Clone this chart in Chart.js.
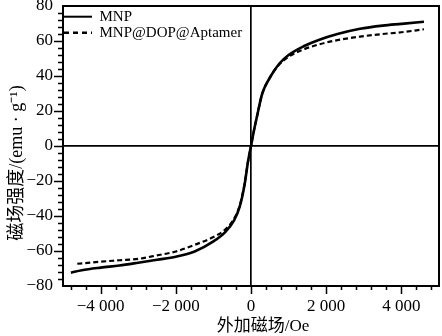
<!DOCTYPE html>
<html>
<head>
<meta charset="utf-8">
<script src="https://cdn.jsdelivr.net/npm/chart.js@4.4.0/dist/chart.umd.min.js"></script>
<style>
html,body{margin:0;padding:0;background:#fff;}
#wrap{width:442px;height:336px;position:relative;}
</style>
</head>
<body>
<div id="wrap"><canvas id="c"></canvas></div>
<script>
// ---- data ----
const seriesNames = ['MNP', 'MNP@DOP@Aptamer'];
const mnpField = [-4790, -4500, -4000, -3500, -3000, -2500, -2000, -1500, -1000, -700, -450, -300, -170, -80, 0, 80, 150, 300, 500, 750, 1000, 1400, 1800, 2300, 2900, 3500, 4000, 4600];
const mnpMag   = [-72.4, -71.0, -69.5, -68.3, -66.7, -65.0, -63.3, -60.3, -54.5, -49.5, -42.5, -34.7, -22.0, -9.0, 0, 9.0, 16.0, 30.0, 39.0, 47.0, 52.0, 57.0, 60.6, 64.0, 67.0, 68.8, 69.8, 71.0];
const aptField = [-4620, -4000, -3500, -3000, -2500, -2000, -1500, -1000, -700, -450, -300, -170, -80, 0, 80, 150, 300, 500, 750, 1000, 1400, 1800, 2300, 2900, 3500, 4000, 4600];
const aptMag   = [-67.3, -66.1, -65.3, -64.5, -62.5, -60.3, -56.5, -52.0, -48.0, -41.5, -34.0, -21.5, -9.0, 0, 9.0, 16.0, 30.0, 39.0, 46.5, 51.0, 55.2, 58.0, 60.5, 62.5, 64.0, 65.0, 66.7];
const xTickValues = [-4000, -2000, 0, 2000, 4000];
const xTickLabels = ['\u22124 000', '\u22122 000', '0', '2 000', '4 000'];
const yTickValues = [-80, -60, -40, -20, 0, 20, 40, 60, 80];
const yTickLabels = ['\u221280', '\u221260', '\u221240', '\u221220', '0', '20', '40', '60', '80'];
const xTitle = '外加磁场/Oe';
const yTitle = '磁场强度/(emu · g⁻¹)';
const xMinorStep = 400, yMinorStep = 4;

const toPts = (xs, ys) => xs.map((x, i) => ({x: x, y: ys[i]}));

const serif = '"Liberation Serif", "Times New Roman", "Noto Sans CJK SC", serif';
Chart.defaults.color = '#000';
Chart.defaults.font.family = serif;

const framePlugin = {
  id: 'frame',
  beforeDraw(chart) {
    const ctx = chart.ctx;
    ctx.save();
    ctx.fillStyle = '#fff';
    ctx.fillRect(0, 0, chart.width, chart.height);
    ctx.restore();
  },
  afterDraw(chart) {
    const ctx = chart.ctx;
    const a = chart.chartArea;
    const xs = chart.scales.x, ys = chart.scales.y;
    ctx.save();
    ctx.strokeStyle = '#000';
    ctx.lineWidth = 2;
    ctx.strokeRect(a.left, a.top, a.right - a.left, a.bottom - a.top);
    ctx.lineWidth = 1.5;
    ctx.beginPath();
    for (let v = xs.min + xMinorStep / 2; v < xs.max; v += xMinorStep) {
      const vv = Math.round(v);
      const px = Math.round(xs.getPixelForValue(vv)) + 0.5;
      const len = (vv % 2000 === 0) ? 8 : 4;
      ctx.moveTo(px, a.bottom);
      ctx.lineTo(px, a.bottom + len);
    }
    for (let v = ys.min + yMinorStep; v < ys.max; v += yMinorStep) {
      const py = Math.round(ys.getPixelForValue(v)) + 0.5;
      const len = (v % 20 === 0) ? 9 : 5;
      ctx.moveTo(a.left, py);
      ctx.lineTo(a.left - len, py);
    }
    ctx.stroke();
    // axis titles
    ctx.fillStyle = '#000';
    ctx.textAlign = 'center';
    ctx.textBaseline = 'middle';
    ctx.font = '17px ' + serif;
    ctx.fillText(xTitle, (a.left + a.right) / 2 + 12, a.bottom + 41);
    ctx.translate(a.left - 46, (a.top + a.bottom) / 2 + 17);
    ctx.rotate(-Math.PI / 2);
    ctx.font = '18px ' + serif;
    ctx.fillText(yTitle, 0, 0);
    ctx.restore();
  }
};

new Chart(document.getElementById('c'), {
  type: 'scatter',
  data: {
    datasets: [
      {
        label: seriesNames[0],
        data: toPts(mnpField, mnpMag),
        showLine: true,
        borderColor: '#000',
        backgroundColor: '#000',
        borderWidth: 2.6,
        pointRadius: 0,
        cubicInterpolationMode: 'monotone',
        fill: false
      },
      {
        label: seriesNames[1],
        data: toPts(aptField, aptMag),
        showLine: true,
        borderColor: '#000',
        backgroundColor: '#000',
        borderWidth: 2.2,
        borderDash: [5, 3],
        pointRadius: 0,
        cubicInterpolationMode: 'monotone',
        fill: false
      }
    ]
  },
  options: {
    responsive: true,
    maintainAspectRatio: false,
    animation: false,
    events: [],
    layout: { padding: { top: 6, right: 3, left: 0, bottom: 0 } },
    plugins: {
      tooltip: { enabled: false },
      legend: {
        position: 'chartArea',
        align: 'start',
        title: { display: true, text: ' ', font: { size: 1 }, padding: { top: 7, bottom: 0 } },
        labels: {
          font: { size: 15, family: serif },
          color: '#000',
          usePointStyle: true,
          pointStyleWidth: 28,
          boxHeight: 10,
          padding: 1,
          generateLabels(chart) {
            return chart.data.datasets.map((ds, i) => ({
              text: ds.label,
              fillStyle: 'rgba(0,0,0,0)',
              strokeStyle: '#000',
              pointStyle: 'line',
              lineWidth: i === 0 ? 2 : 2.4,
              lineDash: i === 0 ? [] : [5, 4],
              hidden: false,
              datasetIndex: i,
              fontColor: '#000'
            }));
          }
        }
      }
    },
    scales: {
      x: {
        type: 'linear',
        min: -5000,
        max: 5000,
        afterBuildTicks(scale) { scale.ticks = xTickValues.map(v => ({ value: v })); },
        afterFit(scale) { scale.height = 50; scale.paddingLeft = 0; scale.paddingRight = 0; },
        ticks: {
          autoSkip: false,
          maxRotation: 0,
          padding: 10,
          font: { size: 17, family: serif },
          color: '#000',
          callback(value) { const i = xTickValues.indexOf(value); return i >= 0 ? xTickLabels[i] : ''; }
        },
        grid: {
          drawTicks: false,
          color: ctx => (ctx.tick && ctx.tick.value === 0) ? '#000' : 'rgba(0,0,0,0)',
          lineWidth: 1.7
        },
        border: { display: false },
        title: { display: false }
      },
      y: {
        type: 'linear',
        min: -80,
        max: 80,
        afterBuildTicks(scale) { scale.ticks = yTickValues.map(v => ({ value: v })); },
        afterFit(scale) { scale.width = 63; scale.paddingTop = 0; scale.paddingBottom = 0; },
        ticks: {
          autoSkip: false,
          padding: 10,
          font: { size: 17, family: serif },
          color: '#000',
          callback(value) { const i = yTickValues.indexOf(value); return i >= 0 ? yTickLabels[i] : ''; }
        },
        grid: {
          drawTicks: false,
          color: ctx => (ctx.tick && ctx.tick.value === 0) ? '#000' : 'rgba(0,0,0,0)',
          lineWidth: 1.7
        },
        border: { display: false },
        title: { display: false }
      }
    }
  },
  plugins: [framePlugin]
});
</script>
</body>
</html>
